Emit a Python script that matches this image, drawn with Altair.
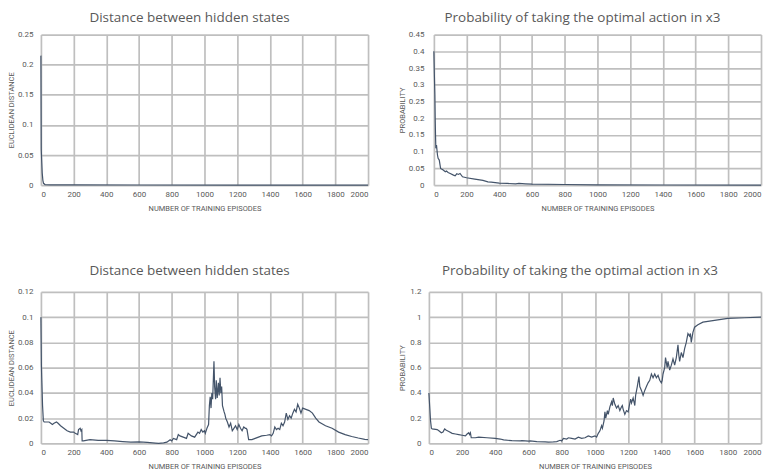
import altair as alt
import pandas as pd

X_TICKS = [0, 200, 400, 600, 800, 1000, 1200, 1400, 1600, 1800, 2000]
X_TITLE = "NUMBER OF TRAINING EPISODES"

# Top-left: distance between hidden states (run 1)
d1_x = [0, 2, 4, 8, 12, 16, 25, 60, 200, 600, 1200, 2000]
d1_y = [0.215, 0.06, 0.045, 0.02, 0.008, 0.003, 0.001, 0.0005, 0.0003, 0.0002, 0.0001, 0.0001]

# Top-right: probability of optimal action in x3 (run 1)
p1_x = [0, 3, 6, 8, 10, 12, 16, 22, 26, 33, 41, 57, 70, 77, 87, 100, 120, 130, 140, 150,
        160, 175, 200, 250, 300, 330, 350, 400, 450, 500, 520, 560, 600, 800, 1000, 1400, 2000]
p1_y = [0.4, 0.33, 0.27, 0.2, 0.15, 0.11, 0.12, 0.09, 0.08, 0.075, 0.05, 0.045, 0.04, 0.042,
        0.038, 0.035, 0.03, 0.028, 0.034, 0.032, 0.035, 0.025, 0.022, 0.018, 0.014, 0.01,
        0.009, 0.006, 0.005, 0.004, 0.005, 0.004, 0.003, 0.002, 0.001, 0.0005, 0.0002]

# Bottom-left: distance between hidden states (run 2)
d2_x = [0, 3, 5, 10, 15, 20, 50, 60, 70, 80, 95, 105, 120, 140, 150, 160, 180, 200, 210,
        225, 230, 240, 245, 250, 252, 260, 300, 350, 400, 450, 500, 550, 600, 650, 700, 720,
        750, 770, 790, 800, 810, 830, 840, 850, 870, 890, 900, 920, 940, 960, 970, 980, 990,
        1000, 1005, 1015, 1025, 1030, 1035, 1040, 1045, 1050, 1058, 1062, 1068, 1072, 1078,
        1085, 1090, 1095, 1100, 1105, 1110, 1120, 1125, 1130, 1140, 1150, 1160, 1170, 1180,
        1190, 1200, 1210, 1220, 1230, 1240, 1250, 1255, 1260, 1270, 1290, 1310, 1330, 1350,
        1380, 1400, 1410, 1420, 1430, 1440, 1450, 1460, 1470, 1480, 1490, 1500, 1510, 1520,
        1530, 1540, 1550, 1560, 1570, 1580, 1590, 1600, 1620, 1640, 1660, 1680, 1700, 1740,
        1780, 1820, 1860, 1900, 1940, 1980, 2000]
d2_y = [0.1, 0.062, 0.052, 0.03, 0.018, 0.017, 0.017, 0.016, 0.015, 0.016, 0.017, 0.016,
        0.014, 0.012, 0.011, 0.010, 0.009, 0.009, 0.008, 0.007, 0.011, 0.012, 0.010, 0.011,
        0.002, 0.002, 0.003, 0.0025, 0.0025, 0.002, 0.0015, 0.001, 0.0012, 0.0008, 0.0003,
        0.0, 0.0005, 0.001, 0.003, 0.002, 0.004, 0.003, 0.007, 0.006, 0.005, 0.004, 0.008,
        0.006, 0.005, 0.009, 0.008, 0.011, 0.009, 0.010, 0.008, 0.012, 0.015, 0.030, 0.037,
        0.028, 0.040, 0.035, 0.065, 0.045, 0.035, 0.050, 0.036, 0.048, 0.038, 0.052, 0.040,
        0.045, 0.030, 0.025, 0.023, 0.020, 0.017, 0.013, 0.016, 0.010, 0.012, 0.014, 0.011,
        0.015, 0.012, 0.010, 0.013, 0.012, 0.012, 0.011, 0.003, 0.003, 0.004, 0.005, 0.006,
        0.0065, 0.007, 0.006, 0.008, 0.013, 0.011, 0.012, 0.011, 0.016, 0.014, 0.017, 0.024,
        0.019, 0.022, 0.020, 0.024, 0.027, 0.025, 0.031, 0.028, 0.024, 0.028, 0.027, 0.026,
        0.024, 0.020, 0.017, 0.014, 0.012, 0.009, 0.007, 0.0055, 0.0043, 0.0033, 0.003]

# Bottom-right: probability of optimal action in x3 (run 2)
p2_x = [0, 10, 15, 20, 50, 60, 75, 85, 95, 105, 120, 140, 160, 180, 200, 220, 230, 240, 245,
        250, 255, 280, 300, 350, 400, 430, 450, 500, 550, 560, 600, 610, 650, 700, 720, 750,
        770, 790, 800, 810, 830, 840, 860, 880, 900, 920, 940, 960, 980, 1000, 1010, 1020,
        1030, 1040, 1045, 1055, 1060, 1065, 1075, 1080, 1090, 1100, 1105, 1110, 1120, 1130,
        1140, 1150, 1160, 1165, 1170, 1180, 1190, 1200, 1210, 1215, 1220, 1230, 1240, 1245,
        1255, 1265, 1270, 1280, 1290, 1300, 1310, 1320, 1330, 1340, 1350, 1360, 1370, 1380,
        1390, 1400, 1405, 1410, 1420, 1425, 1435, 1440, 1450, 1460, 1470, 1480, 1490, 1500,
        1505, 1510, 1520, 1530, 1540, 1550, 1560, 1570, 1575, 1580, 1590, 1600, 1620, 1650,
        1700, 1750, 1800, 1900, 2000]
p2_y = [0.4, 0.18, 0.12, 0.115, 0.11, 0.1, 0.085, 0.09, 0.115, 0.105, 0.095, 0.08, 0.075,
        0.07, 0.065, 0.06, 0.075, 0.085, 0.07, 0.085, 0.045, 0.045, 0.05, 0.045, 0.04, 0.035,
        0.028, 0.022, 0.02, 0.022, 0.018, 0.02, 0.015, 0.012, 0.01, 0.012, 0.015, 0.025, 0.02,
        0.04, 0.035, 0.045, 0.04, 0.035, 0.05, 0.04, 0.045, 0.06, 0.05, 0.06, 0.05, 0.08, 0.1,
        0.14, 0.12, 0.18, 0.25, 0.2, 0.26, 0.23, 0.29, 0.33, 0.3, 0.36, 0.31, 0.28, 0.3, 0.26,
        0.29, 0.3, 0.27, 0.23, 0.26, 0.25, 0.32, 0.35, 0.32, 0.36, 0.3, 0.38, 0.45, 0.53, 0.45,
        0.42, 0.38, 0.42, 0.45, 0.48, 0.5, 0.55, 0.52, 0.55, 0.52, 0.54, 0.5, 0.48, 0.5, 0.55,
        0.6, 0.68, 0.6, 0.65, 0.58, 0.62, 0.67, 0.62, 0.68, 0.78, 0.7, 0.65, 0.72, 0.68, 0.75,
        0.8, 0.87, 0.85, 0.87, 0.8, 0.88, 0.92, 0.94, 0.96, 0.97, 0.98, 0.99, 0.995, 1.0]

TEXT = "#595959"
GRID = "#bfbfbf"
LINE = "#44546a"


def panel(xs, ys, title, ytitle, ydomain, yticks, width, height, label_pad, title_x, t_off):
    df = pd.DataFrame({"x": xs, "y": ys})
    return (
        alt.Chart(df, title=alt.Title(title, anchor="middle", dx=-15, offset=t_off,
                                      font="Open Sans", fontSize=13.5, fontWeight="normal",
                                      color=TEXT))
        .mark_line(color=LINE, strokeWidth=1.2)
        .encode(
            x=alt.X("x:Q", scale=alt.Scale(domain=[0, 2000], nice=False, zero=False),
                    axis=alt.Axis(values=X_TICKS, title=X_TITLE, labelPadding=5,
                                  labelExpr="'' + datum.value", titlePadding=6)),
            y=alt.Y("y:Q", scale=alt.Scale(domain=ydomain, nice=False),
                    axis=alt.Axis(values=yticks, labelExpr="'' + datum.value", title=ytitle,
                                  labelPadding=label_pad, titleX=title_x,
                                  titleBaseline="middle")),
        )
        .properties(width=width, height=height)
    )


c1 = panel(d1_x, d1_y, "Distance between hidden states", "EUCLIDEAN DISTANCE",
           [0, 0.25], [0, 0.05, 0.1, 0.15, 0.2, 0.25], 328, 151, 8, -29, 6)
c2 = panel(p1_x, p1_y, "Probability of taking the optimal action in x3", "PROBABILITY",
           [0, 0.45], [0, 0.05, 0.1, 0.15, 0.2, 0.25, 0.3, 0.35, 0.4, 0.45], 328, 151, 10, -31, 6)
c3 = panel(d2_x, d2_y, "Distance between hidden states", "EUCLIDEAN DISTANCE",
           [0, 0.12], [0, 0.02, 0.04, 0.06, 0.08, 0.1, 0.12], 328, 152, 8, -29, 10)
c4 = panel(p2_x, p2_y, "Probability of taking the optimal action in x3", "PROBABILITY",
           [0, 1.2], [0, 0.2, 0.4, 0.6, 0.8, 1, 1.2], 333, 152, 8, -26, 10)

top = alt.hconcat(c1, c2, spacing=28)
bottom = alt.hconcat(c3, c4, spacing=28)

chart = (
    alt.vconcat(top, bottom, spacing=52)
    .properties(padding={"top": 2, "left": 0, "right": 0, "bottom": 0})
    .configure_view(stroke=None)
    .configure_axis(
        grid=True, gridColor=GRID, gridWidth=1.7, domain=False, ticks=False,
        labelFont="Roboto", labelFontSize=8, labelColor=TEXT,
        titleFont="Roboto", titleFontSize=7.5, titleFontWeight="normal", titleColor=TEXT,
    )
)

chart.save("out.html", embed_options={"renderer": "svg", "actions": False})
